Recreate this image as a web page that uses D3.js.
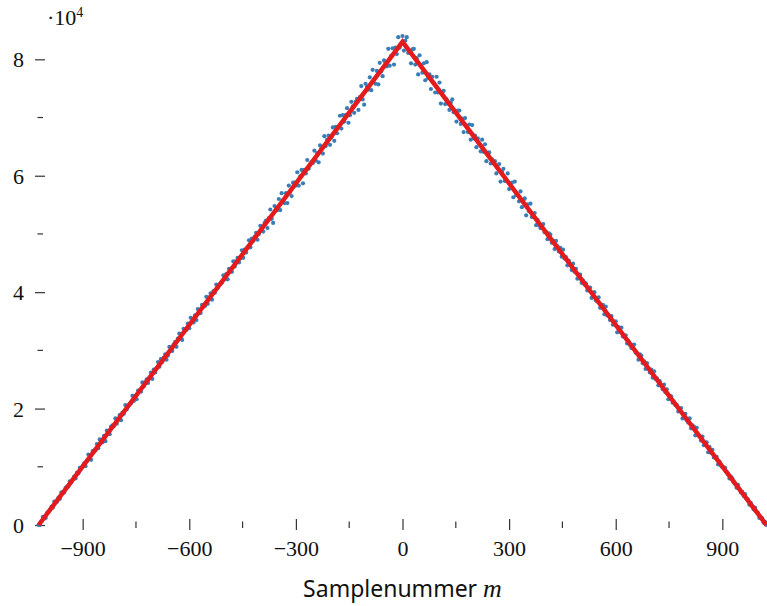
<!DOCTYPE html>
<html>
<head>
<meta charset="utf-8">
<script src="https://cdn.jsdelivr.net/npm/d3@7"></script>
<style>
  body { margin: 0; background: #fff; }
</style>
</head>
<body>
<script>
// sample index m starts at M_START and goes up in steps of M_STEP
const M_START = -1024;
const M_STEP = 4;
// value per sample, in units of VALUE_UNIT
const VALUE_UNIT = 100;
const samples = [
  0, 0, 6, 14, 11, 12, 21, 23, 26, 31, 30, 40, 39, 40, 47, 45,
  56, 55, 56, 64, 65, 66, 75, 73, 78, 83, 80, 90, 89, 98, 97, 101,
  106, 101, 110, 121, 113, 112, 127, 128, 128, 139, 132, 147, 143, 142, 153, 144,
  162, 159, 156, 169, 171, 170, 183, 174, 182, 189, 180, 193, 191, 206, 199, 204,
  208, 209, 222, 213, 222, 216, 231, 230, 229, 245, 238, 245, 250, 244, 253, 262,
  251, 267, 262, 269, 280, 272, 285, 280, 287, 293, 284, 291, 306, 302, 299, 310,
  314, 306, 320, 329, 321, 318, 337, 336, 335, 346, 338, 356, 350, 348, 360, 352,
  371, 364, 364, 378, 378, 376, 392, 380, 391, 398, 387, 402, 399, 413, 407, 412,
  415, 416, 429, 422, 431, 422, 440, 440, 435, 453, 444, 453, 459, 451, 458, 472,
  459, 473, 468, 477, 489, 477, 492, 488, 495, 502, 490, 500, 514, 511, 504, 519,
  523, 510, 527, 542, 526, 519, 548, 545, 541, 560, 541, 570, 558, 553, 570, 553,
  583, 572, 565, 588, 588, 583, 606, 583, 599, 610, 587, 610, 604, 627, 612, 619,
  623, 622, 643, 626, 639, 623, 652, 647, 638, 668, 651, 662, 669, 653, 666, 683,
  660, 684, 673, 684, 703, 681, 704, 693, 704, 716, 691, 704, 727, 719, 708, 727,
  732, 713, 735, 754, 731, 722, 758, 753, 748, 769, 747, 782, 765, 758, 780, 757,
  794, 779, 771, 798, 795, 788, 818, 789, 806, 819, 791, 820, 809, 838, 820, 827,
  840,
  815, 832, 838, 811, 814, 793, 817, 818, 791, 802, 774, 807, 790, 777, 793, 764,
  795, 768, 774, 749, 770, 759, 743, 770, 743, 760, 724, 743, 746, 723, 731, 724,
  713, 726, 731, 709, 710, 693, 712, 712, 689, 698, 675, 699, 686, 675, 688, 662,
  687, 664, 669, 649, 664, 655, 642, 662, 641, 654, 625, 639, 640, 621, 628, 621,
  625, 604, 613, 620, 590, 607, 612, 591, 591, 604, 577, 586, 588, 563, 590, 567,
  567, 556, 573, 546, 558, 561, 532, 551, 539, 552, 529, 532, 536, 515, 524, 515,
  510, 515, 517, 503, 503, 491, 501, 499, 485, 488, 474, 488, 479, 470, 476, 461,
  473, 458, 460, 446, 454, 447, 438, 449, 435, 440, 423, 430, 430, 416, 420, 413,
  415, 403, 405, 408, 390, 398, 400, 386, 384, 391, 373, 378, 378, 362, 375, 360,
  360, 352, 359, 344, 349, 350, 331, 340, 332, 339, 324, 324, 326, 312, 316, 309,
  304, 309, 310, 296, 295, 284, 293, 291, 278, 281, 268, 278, 269, 262, 267, 253,
  264, 251, 252, 240, 247, 240, 233, 241, 228, 233, 216, 222, 221, 210, 211, 206,
  206, 195, 198, 201, 183, 190, 191, 180, 176, 183, 166, 171, 169, 154, 167, 154,
  152, 145, 152, 137, 141, 142, 125, 134, 124, 129, 116, 117, 117, 104, 109, 102,
  99, 99, 98, 91, 88, 80, 83, 80, 73, 71, 64, 69, 62, 56, 57, 50,
  53, 45, 44, 35, 38, 32, 27, 30, 23, 21, 12, 13, 12, 4, 5, 0
];

// fitted triangle
const fitM = [-1024, 0, 1024];
const fitValue = [0, 83000, 0];

const xMajorTicks = [-900, -600, -300, 0, 300, 600, 900];
const xMinorTicks = [-750, -450, -150, 150, 450, 750];
const yMajorTicks = [0, 20000, 40000, 60000, 80000];
const yMinorTicks = [10000, 30000, 50000, 70000];
const yExponent = 4;
const xTitle = "Samplenummer ";
const xTitleVar = "m";

const W = 767, H = 606;
const SERIF = "'Liberation Serif', 'DejaVu Serif', serif";
const TICK_FONT = "22px";

var svg = d3.select("body").append("svg")
    .attr("width", W)
    .attr("height", H);

var x = d3.scaleLinear().domain([-1024, 1024]).range([38.6, 766.4]);
var y = d3.scaleLinear().domain([0, 80000]).range([525, 59.3]);

var points = samples.map(function(v, i) {
    return { m: M_START + i * M_STEP, value: v * VALUE_UNIT };
});

// x axis: ticks only, no domain line
var xAxis = svg.append("g")
    .attr("transform", "translate(0," + y(0) + ")")
    .call(d3.axisBottom(x).tickValues(xMajorTicks).tickSize(0).tickPadding(0));
xAxis.select(".domain").remove();
xAxis.attr("font-family", SERIF).attr("font-size", TICK_FONT);
xAxis.selectAll(".tick line").attr("y1", -6).attr("y2", 5).attr("stroke", "#333").attr("stroke-width", 1.2);
xAxis.selectAll(".tick text")
    .attr("y", 31)
    .attr("dy", null)
    .attr("fill", "#111");

svg.append("g").selectAll("line")
    .data(xMinorTicks)
    .enter()
    .append("line")
    .attr("x1", function(d) { return x(d); })
    .attr("x2", function(d) { return x(d); })
    .attr("y1", y(0) - 3.5)
    .attr("y2", y(0) + 3)
    .attr("stroke", "#333")
    .attr("stroke-width", 1.2);

// y axis
var yAxis = svg.append("g")
    .attr("transform", "translate(40,0)")
    .call(d3.axisLeft(y).tickValues(yMajorTicks).tickSize(0).tickPadding(0)
        .tickFormat(function(d) { return d / Math.pow(10, yExponent); }));
yAxis.select(".domain").remove();
yAxis.attr("font-family", SERIF).attr("font-size", TICK_FONT);
yAxis.selectAll(".tick line").attr("x1", -5).attr("x2", 5).attr("stroke", "#333").attr("stroke-width", 1.2);
yAxis.selectAll(".tick text")
    .attr("x", -16)
    .attr("dy", "0.34em")
    .attr("fill", "#111");

svg.append("g").selectAll("line")
    .data(yMinorTicks)
    .enter()
    .append("line")
    .attr("x1", 37.5)
    .attr("x2", 43)
    .attr("y1", function(d) { return y(d); })
    .attr("y2", function(d) { return y(d); })
    .attr("stroke", "#333")
    .attr("stroke-width", 1.2);

// exponent label
var expLabel = svg.append("text")
    .attr("font-family", SERIF)
    .attr("font-size", TICK_FONT)
    .attr("fill", "#111")
    .attr("x", 47)
    .attr("y", 25);
expLabel.append("tspan").text("\u00b710");
expLabel.append("tspan").attr("font-size", "14px").attr("dy", -8).text(yExponent);

// samples
svg.append("g").selectAll("circle")
    .data(points)
    .enter()
    .append("circle")
    .attr("cx", function(d) { return x(d.m); })
    .attr("cy", function(d) { return y(d.value); })
    .attr("r", 2.1)
    .attr("fill", "#377eb8");

// fitted line
var line = d3.line()
    .x(function(d, i) { return x(fitM[i]); })
    .y(function(d) { return y(d); });

svg.append("path")
    .attr("d", line(fitValue))
    .attr("fill", "none")
    .attr("stroke", "#e41a1c")
    .attr("stroke-width", 4.5);

// x title
var title = svg.append("text")
    .attr("font-family", "'Noto Sans', 'Open Sans', sans-serif")
    .attr("font-size", "23px")
    .attr("fill", "#111")
    .attr("x", x(0))
    .attr("y", 597)
    .attr("text-anchor", "middle");
title.append("tspan").text(xTitle);
title.append("tspan")
    .attr("font-family", SERIF)
    .attr("font-style", "italic")
    .attr("font-size", "26px")
    .text(xTitleVar);
</script>
</body>
</html>
